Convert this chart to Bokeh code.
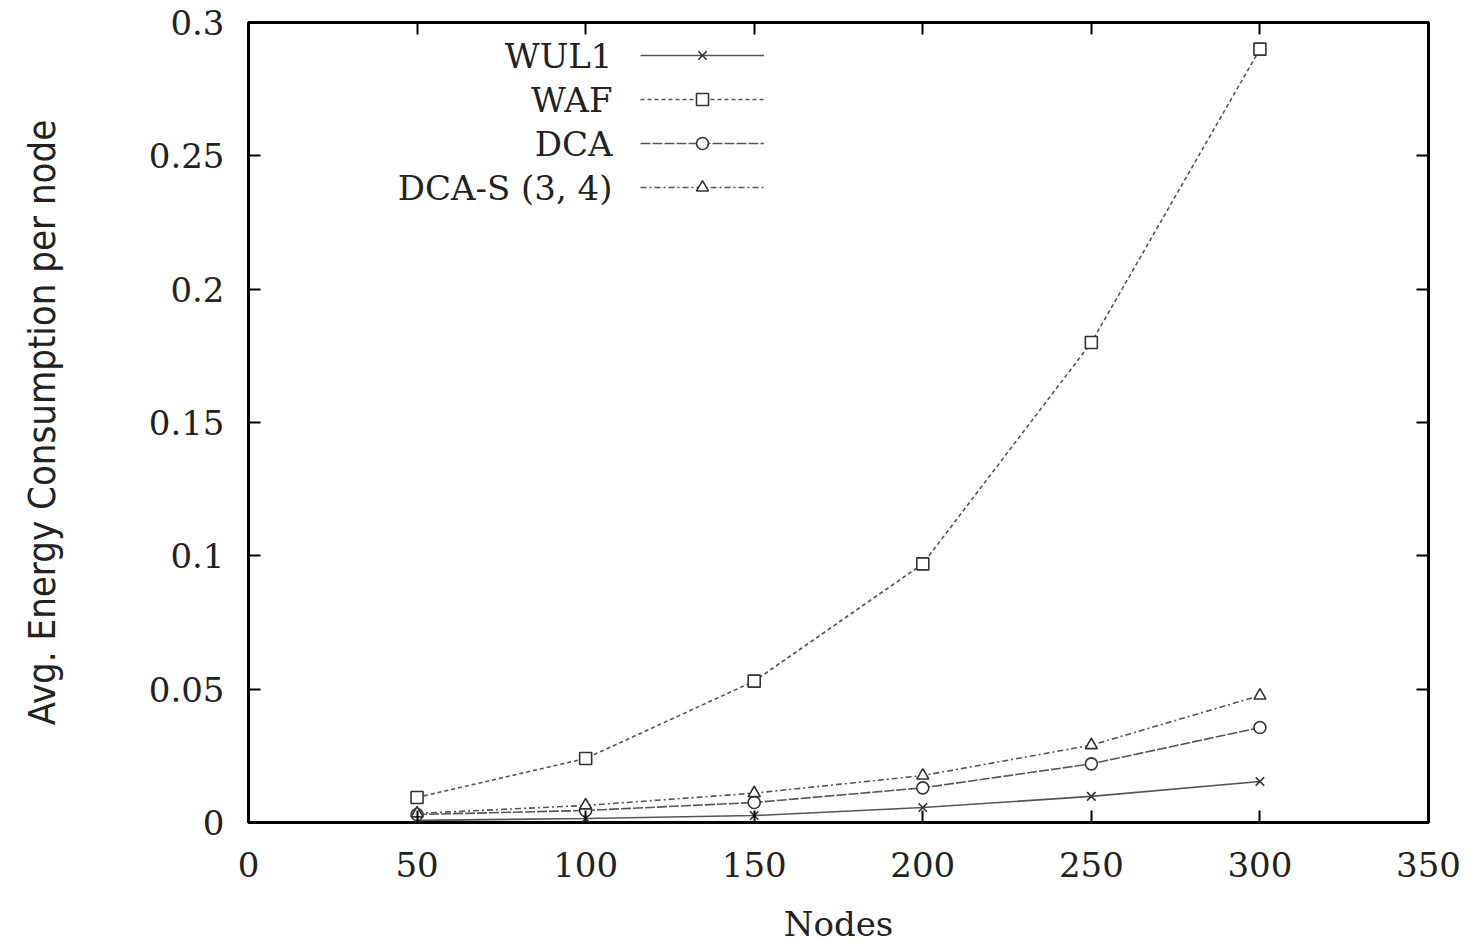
from bokeh.plotting import figure
from bokeh.models import LinearAxis, Legend, LegendItem, Label, FixedTicker, Range1d
from bokeh.embed import file_html
from bokeh.resources import INLINE

nodes = [50, 100, 150, 200, 250, 300]
wul1 = [0.0008, 0.0015, 0.0026, 0.0056, 0.0098, 0.0154]
waf = [0.0094, 0.0240, 0.0530, 0.0970, 0.1800, 0.2900]
dca = [0.0030, 0.0045, 0.0075, 0.0130, 0.0220, 0.0356]
dcas = [0.0034, 0.0064, 0.0110, 0.0176, 0.0290, 0.0476]
names = ["WUL1", "WAF", "DCA", "DCA-S (3, 4)"]
x_ticks = [0, 50, 100, 150, 200, 250, 300, 350]
y_ticks = [0, 0.05, 0.1, 0.15, 0.2, 0.25, 0.3]
y_tick_labels = {0: "0", 0.05: "0.05", 0.1: "0.1", 0.15: "0.15", 0.2: "0.2", 0.25: "0.25", 0.3: "0.3"}

SERIF = "DejaVu Serif"
p = figure(width=1472, height=947, output_backend="svg", toolbar_location=None,
           x_range=Range1d(0, 350), y_range=Range1d(0, 0.3),
           min_border_left=248, min_border_right=44, min_border_top=22, min_border_bottom=125)
p.xgrid.visible = False
p.ygrid.visible = False
p.outline_line_color = "black"
p.outline_line_width = 3
p.background_fill_color = "white"
p.border_fill_color = "white"

for ax in (p.xaxis[0], p.yaxis[0]):
    ax.major_tick_in = 12
    ax.major_tick_out = 0
    ax.minor_tick_line_color = None
    ax.major_tick_line_width = 2
    ax.axis_line_color = None
    ax.major_label_text_font = SERIF
    ax.major_label_text_font_size = "34px"
    ax.major_label_text_color = "#222222"
    ax.axis_label_text_font_style = "normal"
    ax.axis_label_text_color = "#222222"

p.xaxis.ticker = FixedTicker(ticks=x_ticks)
p.yaxis.ticker = FixedTicker(ticks=y_ticks)
p.yaxis.major_label_overrides = y_tick_labels
p.xaxis.major_label_standoff = 29
p.yaxis.major_label_standoff = 24
p.xaxis.axis_label = "Nodes"
p.xaxis.axis_label_text_font = SERIF
p.xaxis.axis_label_text_font_size = "34px"
p.xaxis.axis_label_standoff = 24
p.yaxis.axis_label = "Avg. Energy Consumption per node"
p.yaxis.axis_label_text_font = "DejaVu Sans Condensed"
p.yaxis.axis_label_text_font_size = "38px"
p.yaxis.axis_label_standoff = 82

# mirrored ticks (no labels)
top = LinearAxis(ticker=FixedTicker(ticks=x_ticks), major_tick_in=12, major_tick_out=0,
                 minor_tick_line_color=None, axis_line_color=None,
                 major_label_overrides={t: "" for t in x_ticks},
                 major_label_standoff=0, major_tick_line_width=2)
right = LinearAxis(ticker=FixedTicker(ticks=y_ticks), major_tick_in=12, major_tick_out=0,
                   minor_tick_line_color=None, axis_line_color=None,
                   major_label_overrides={t: "" for t in y_ticks},
                   major_label_standoff=0, major_tick_line_width=2)
p.add_layout(top, "above")
p.add_layout(right, "right")

LC = "#555555"
series = [
    (wul1, "solid", "x"),
    (waf, "4 3", "square"),
    (dca, "10 2", "circle"),
    (dcas, "6 3 2 3", "triangle"),
]
items = []
for (vals, dash, marker), name in zip(series, names):
    r1 = p.line(nodes, vals, line_color=LC, line_width=1.6, line_dash=dash)
    r2 = p.scatter(nodes, vals, marker=marker, size=12, line_color="#333333", line_width=1.6,
                   fill_color="white" if marker != "x" else None)
    items.append(LegendItem(label=" ", renderers=[r1, r2]))

legend = Legend(items=items, location=(392, 620), glyph_width=124, glyph_height=30,
                label_height=30, label_width=1, spacing=14, padding=0, margin=0,
                label_standoff=0, border_line_color=None, background_fill_alpha=0,
                label_text_font_size="10px")
p.add_layout(legend, "center")

# legend texts (right-aligned, to the left of the samples, gnuplot style)
for i, name in enumerate(names):
    yv = (822 - (55 + 44 * i)) / 800 * 0.3
    p.add_layout(Label(x=(612 - 248) / 1180 * 350, y=yv, text=name, text_align="right",
                       text_baseline="middle", text_font=SERIF, text_font_size="34px",
                       text_color="#222222"))

open("out.html", "w").write(file_html(p, INLINE))
